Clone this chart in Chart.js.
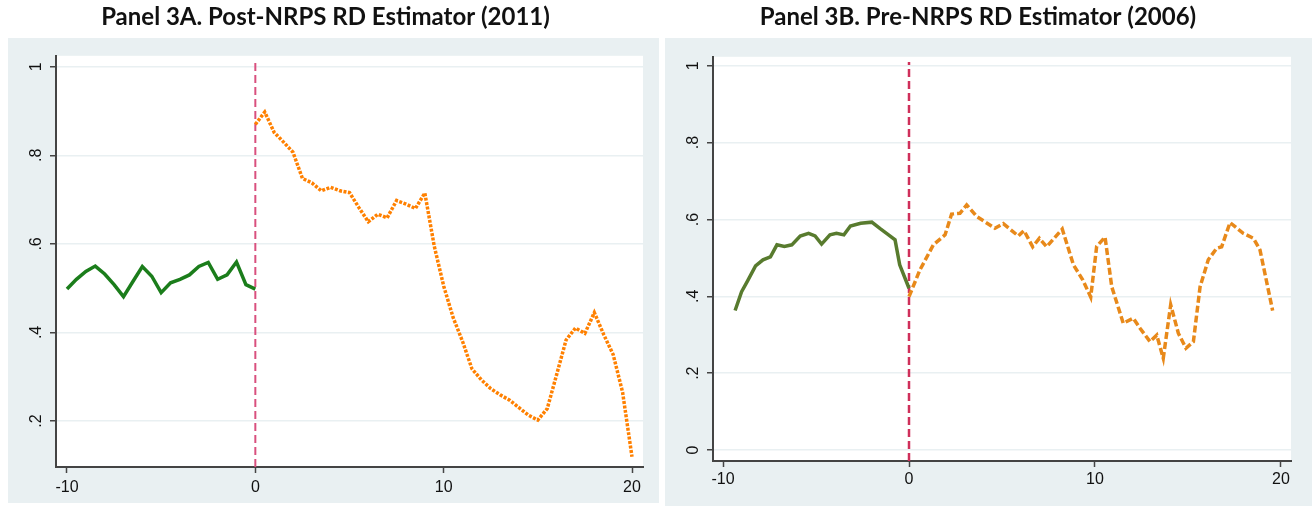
<!DOCTYPE html>
<html>
<head>
<meta charset="utf-8">
<script src="https://cdn.jsdelivr.net/npm/chart.js@4.4.0/dist/chart.umd.min.js"></script>
<style>
  body { margin: 0; background: #fff; width: 1312px; height: 506px; overflow: hidden; position: relative; }
  .panel { position: absolute; top: 0; height: 506px; }
  #panel_a { left: 8px; width: 651px; }
  #panel_b { left: 665px; width: 647px; }
</style>
</head>
<body>
<div class="panel" id="panel_a"><canvas id="chart_a"></canvas></div>
<div class="panel" id="panel_b"><canvas id="chart_b"></canvas></div>
<script>
// values
const CUTOFF = 0;
const X_TICKS = [-10, 0, 10, 20];
const A_Y_TICKS = [0.2, 0.4, 0.6, 0.8, 1];
const B_Y_TICKS = [0, 0.2, 0.4, 0.6, 0.8, 1];

// Panel 3A (2011)
const a_green_x = [-10, -9.5, -9, -8.5, -8, -7.5, -7, -6.5, -6, -5.5, -5, -4.5, -4, -3.5, -3, -2.5, -2, -1.5, -1, -0.5, 0];
const a_green_y = [0.498, 0.52, 0.538, 0.550, 0.532, 0.508, 0.481, 0.515, 0.549, 0.527, 0.490, 0.512, 0.520, 0.530, 0.549, 0.558, 0.520, 0.530, 0.559, 0.508, 0.498];
const a_orange_x = [0, 0.5, 1, 1.5, 2, 2.5, 3, 3.5, 4, 4.5, 5, 5.5, 6, 6.5, 7, 7.5, 8, 8.5, 9, 9.5, 10,
  10.5, 11, 11.5, 12, 12.5, 13, 13.5, 14, 14.5, 15, 15.5, 16, 16.5, 17, 17.5, 18, 18.5, 19, 19.5, 20];
const a_orange_y = [0.870, 0.898, 0.852, 0.830, 0.807, 0.748, 0.738, 0.720, 0.728, 0.720, 0.716, 0.682, 0.650, 0.667, 0.659, 0.698, 0.690, 0.680, 0.715, 0.595, 0.505,
  0.434, 0.380, 0.318, 0.293, 0.273, 0.259, 0.247, 0.230, 0.213, 0.202, 0.228, 0.305, 0.383, 0.410, 0.398, 0.445, 0.395, 0.350, 0.265, 0.119];

// Panel 3B (2006)
const b_green_x = [-9.35, -9.0, -8.7, -8.25, -7.85, -7.45, -7.1, -6.7, -6.3, -5.85, -5.4, -5.05, -4.7, -4.25, -3.9, -3.5, -3.15, -2.6, -2.0, -1.55, -1.1, -0.75, -0.5, 0];
const b_green_y = [0.363, 0.412, 0.438, 0.479, 0.495, 0.503, 0.534, 0.530, 0.534, 0.557, 0.564, 0.557, 0.536, 0.560, 0.564, 0.560, 0.583, 0.590, 0.593, 0.576, 0.560, 0.547, 0.482, 0.421];
const b_orange_x = [0, 0.59, 1.31, 1.94, 2.29, 2.74, 3.10, 3.64, 4.62, 5.07, 5.88, 6.18, 6.65, 7.01, 7.40, 8.24, 8.84, 9.34, 9.77, 10.09,
  10.54, 10.90, 11.52, 12.06, 12.42, 12.96, 13.32, 13.67, 14.07, 14.48, 14.89, 15.29, 15.65, 16.09, 16.54, 16.81, 17.26, 17.97, 18.52, 18.87, 19.55];
const b_orange_y = [0.399, 0.469, 0.534, 0.560, 0.614, 0.616, 0.638, 0.608, 0.577, 0.589, 0.557, 0.571, 0.529, 0.551, 0.529, 0.575, 0.482, 0.443, 0.398, 0.530,
  0.554, 0.425, 0.330, 0.343, 0.317, 0.282, 0.299, 0.239, 0.378, 0.304, 0.265, 0.282, 0.425, 0.495, 0.525, 0.529, 0.592, 0.564, 0.551, 0.521, 0.363];

function to_points(xs, ys) {
  return xs.map((x, i) => ({ x: x, y: ys[i] }));
}

function format_tick(v) {
  if (v === 0 || v === 1) return String(v);
  return String(v).replace(/^0\./, '.');
}

// grey frame round the white plot region, like Stata's s2color scheme
const panel_background = {
  id: 'panel_background',
  beforeDraw(chart, args, opts) {
    const ctx = chart.ctx;
    const area = chart.chartArea;
    ctx.save();
    ctx.fillStyle = '#ffffff';
    ctx.fillRect(0, 0, chart.width, chart.height);
    ctx.fillStyle = '#e9f0f2';
    ctx.fillRect(0, opts.top, chart.width, opts.bottom - opts.top);
    ctx.fillStyle = '#ffffff';
    ctx.fillRect(area.left, area.top, area.right - area.left, area.bottom - area.top);
    ctx.restore();
  }
};

function make_panel(canvas_id, setup) {
  const tick_font = { family: 'Liberation Sans', size: 16 };
  return new Chart(document.getElementById(canvas_id), {
    type: 'scatter',
    data: { datasets: setup.datasets },
    options: {
      responsive: true,
      maintainAspectRatio: false,
      animation: false,
      layout: { padding: { top: 0, right: setup.pad_right, bottom: 0, left: 0 } },
      plugins: {
        legend: { display: false },
        tooltip: { enabled: false },
        title: {
          display: true,
          text: setup.title,
          color: '#111',
          font: { family: 'Lato', size: 24, weight: 'bold', lineHeight: 1.2 },
          padding: { top: 3, bottom: setup.title_gap }
        },
        panel_background: { top: 38, bottom: setup.bg_bottom }
      },
      scales: {
        x: {
          type: 'linear',
          min: setup.x_min,
          max: setup.x_max,
          afterBuildTicks: s => { s.ticks = X_TICKS.map(v => ({ value: v })); },
          afterFit: s => { s.height = setup.x_axis_height; },
          grid: { drawOnChartArea: false, tickLength: 6, tickColor: '#444', tickWidth: 1.5 },
          border: { color: '#444', width: 2 },
          ticks: { color: '#111', font: tick_font, padding: setup.x_label_pad, maxRotation: 0, autoSkip: false, callback: v => String(v) }
        },
        y: {
          type: 'linear',
          min: setup.y_min,
          max: setup.y_max,
          afterBuildTicks: s => { s.ticks = setup.y_ticks.map(v => ({ value: v })); },
          afterFit: s => { s.width = 48; },
          grid: { color: '#e9f0f2', lineWidth: 1.5, tickLength: 6, tickColor: '#444', tickWidth: 1.5 },
          border: { color: '#444', width: 2 },
          ticks: { color: '#111', font: tick_font, minRotation: 90, maxRotation: 90, crossAlign: 'center', padding: 7, autoSkip: false, callback: format_tick }
        }
      }
    },
    plugins: [panel_background]
  });
}

function line_set(points, color, width, dash) {
  return {
    data: points,
    showLine: true,
    borderColor: color,
    borderWidth: width,
    borderDash: dash,
    pointRadius: 0,
    tension: 0,
    fill: false
  };
}

(() => {
  make_panel('chart_a', {
    title: 'Panel 3A. Post-NRPS RD Estimator (2011)',
    title_gap: 24,
    pad_right: 16,
    bg_bottom: 503,
    x_axis_height: 39,
    x_label_pad: 5,
    x_min: -10.584, x_max: 20.584,
    y_min: 0.096, y_max: 1.025,
    y_ticks: A_Y_TICKS,
    datasets: [
      line_set(to_points(a_green_x, a_green_y), '#1b7d1b', 3.5, []),
      line_set(to_points(a_orange_x, a_orange_y), '#ff8000', 3.5, [3, 1.5]),
      line_set([{ x: CUTOFF, y: 0.096 }, { x: CUTOFF, y: 1.016 }], '#d9507e', 2, [8, 4])
    ]
  });

  make_panel('chart_b', {
    title: 'Panel 3B. Pre-NRPS RD Estimator (2006)',
    title_gap: 25,
    pad_right: 21,
    bg_bottom: 506,
    x_axis_height: 45,
    x_label_pad: 3,
    x_min: -10.538, x_max: 20.538,
    y_min: -0.0286, y_max: 1.0234,
    y_ticks: B_Y_TICKS,
    datasets: [
      line_set(to_points(b_green_x, b_green_y), '#587b2e', 3.5, []),
      line_set(to_points(b_orange_x, b_orange_y), '#e8891a', 3.5, [7, 3]),
      line_set([{ x: CUTOFF, y: -0.0286 }, { x: CUTOFF, y: 1.01 }], '#cf2f5a', 2.5, [8, 4])
    ]
  });
})()
</script>
</body>
</html>
